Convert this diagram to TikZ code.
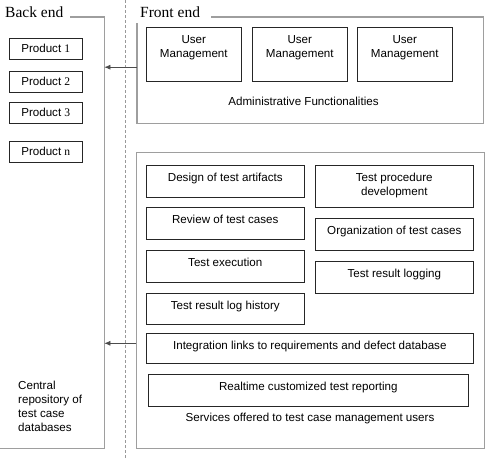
\documentclass[tikz,border=0pt]{standalone}
\usepackage{fontspec}
\setmainfont{Liberation Serif}
\setsansfont{Liberation Sans}
\usetikzlibrary{positioning, arrows.meta}

\begin{document}
\begin{tikzpicture}[x=1pt, y=-1pt,
    frame/.style={draw=black!38, line width=1.2pt},
    region/.style={rectangle, inner sep=0pt},
    box/.style={rectangle, draw=black!85, line width=0.6pt, inner sep=0pt, anchor=north west},
    txt/.style={font=\sffamily\fontsize{11.6}{14}\selectfont, align=center, inner sep=0pt},
    title/.style={font=\fontsize{15.5}{18}\selectfont, inner sep=0pt, anchor=base west},
    divider/.style={draw=black!40, line width=0.7pt, dash pattern=on 3pt off 2pt},
    arr/.style={draw=black!70, line width=0.6pt, -{Latex[length=6pt, width=5pt]}}]

    \useasboundingbox (0,0) rectangle (485,458);

    % back end
    \node (back) [region, minimum width=104pt, minimum height=431pt, anchor=north west] at (0,17) {};
    \draw[frame] ([xshift=70pt]back.north west) -| (back.south east) -- (back.south west);
    \node (backtitle) [title] at (5,17) {Back end};

    \foreach \lbl/\top [count=\i] in {1/38, 2/71, 3/102, n/141}
    \node (prod\i) [box, txt, minimum width=73pt, minimum height=21pt] at (9,\top) {Product {\rmfamily\lbl}};

    \node (repo) [txt, align=left, anchor=north west] at (18,380.5) {Central\\repository of\\test case\\databases};

    % divider
    \draw[divider] (125,0) -- (125,458);

    % front end, administration
    \node (admin) [region, minimum width=346pt, minimum height=106pt, anchor=north west] at (137,17) {};
    \draw[frame] ([xshift=74pt]admin.north west) -| (admin.south east) -| ([yshift=-6pt]admin.north west);
    \node (fronttitle) [title] at (140,17) {Front end};

    \foreach \x [count=\i] in {146,252,357} {
    \node (user\i) [box, minimum width=95pt, minimum height=54pt] at (\x,27) {};
    \node (user\i txt) [txt, below=8pt of user\i.north] {User\\Management};
    }
    \node (admintxt) [txt] at (303.5,101) {Administrative Functionalities};

    % front end, services
    \node (services) [region, frame, minimum width=348pt, minimum height=296pt, anchor=north west] at (136,152) {};

    \node (design) [box, minimum width=158pt, minimum height=32pt] at (146,165) {};
    \node (designtxt) [txt, below=7.5pt of design.north] {Design of test artifacts};
    \node (procedure) [box, minimum width=158pt, minimum height=42pt] at (315,165) {};
    \node (proceduretxt) [txt, below=7.5pt of procedure.north] {Test procedure\\development};
    \node (review) [box, minimum width=158pt, minimum height=32pt] at (146,207) {};
    \node (reviewtxt) [txt, below=7.5pt of review.north] {Review of test cases};
    \node (organization) [box, minimum width=158pt, minimum height=32pt] at (315,218) {};
    \node (organizationtxt) [txt, below=7.5pt of organization.north] {Organization of test cases};
    \node (execution) [box, minimum width=158pt, minimum height=32pt] at (146,250) {};
    \node (executiontxt) [txt, below=7.5pt of execution.north] {Test execution};
    \node (logging) [box, minimum width=158pt, minimum height=32pt] at (315,261) {};
    \node (loggingtxt) [txt, below=7.5pt of logging.north] {Test result logging};
    \node (history) [box, minimum width=158pt, minimum height=31pt] at (146,293) {};
    \node (historytxt) [txt, below=7.5pt of history.north] {Test result log history};
    \node (integration) [box, minimum width=327pt, minimum height=30pt] at (146,333) {};
    \node (integrationtxt) [txt, below=7.5pt of integration.north] {Integration links to requirements and defect database};
    \node (reporting) [box, minimum width=320pt, minimum height=32pt] at (148,374) {};
    \node (reportingtxt) [txt, below=7.5pt of reporting.north] {Realtime customized test reporting};
    \node (servicestxt) [txt] at (310,418) {Services offered to test case management users};

    % links to the back end
    \coordinate (adminlink) at ([yshift=3pt]admin.west);
    \coordinate (serviceslink) at ([yshift=5pt]integration.west);
    \draw[arr] (adminlink) -- (back.east |- adminlink);
    \draw[arr] (services.west |- serviceslink) -- (back.east |- serviceslink);

\end{tikzpicture}
\end{document}
